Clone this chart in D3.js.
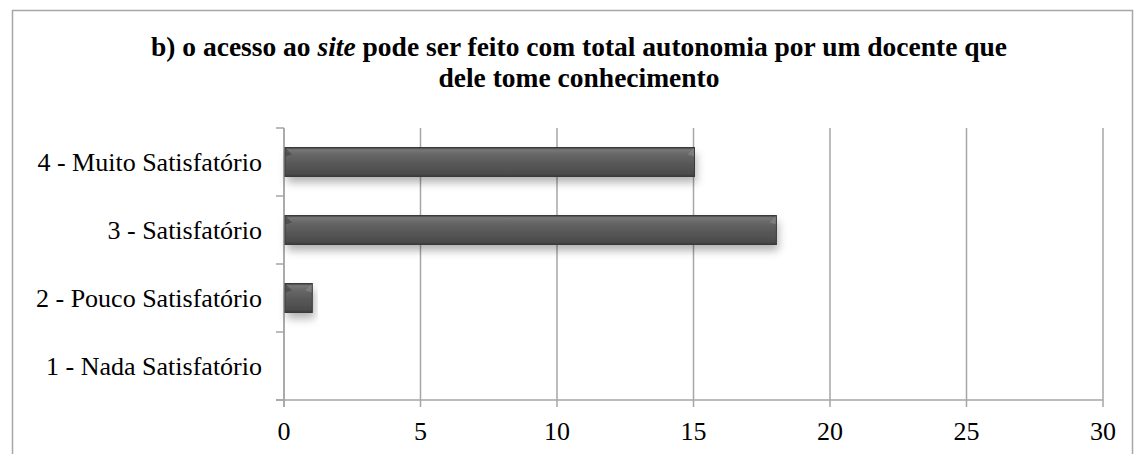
<!DOCTYPE html>
<html><head><meta charset="utf-8">
<script src="https://cdn.jsdelivr.net/npm/d3@7"></script>
<style>body{margin:0;background:#fff}svg{display:block}text{font-family:"Liberation Serif","Times New Roman","DejaVu Serif",serif}</style>
</head><body><svg id="c" width="1134" height="454"></svg>
<script>
const categories = ["1 - Nada Satisfatório","2 - Pouco Satisfatório","3 - Satisfatório","4 - Muito Satisfatório"];
const values = [0, 1, 18, 15];
const xTicks = [0, 5, 10, 15, 20, 25, 30];
const titleLines = [["b) o acesso ao ", "site", " pode ser feito com total autonomia por um docente que"], ["dele tome conhecimento"]];

const svg = d3.select("#c");
const L = 284, R = 1103, T = 128, B = 400;
const x = d3.scaleLinear().domain([0, 30]).range([L, R]);
const y = d3.scaleBand().domain(categories.slice().reverse()).range([T, B]);

// outer border
svg.append("rect").attr("x", 12.5).attr("y", 10.5).attr("width", 1120).attr("height", 460)
  .attr("fill", "none").attr("stroke", "#a6a6a6").attr("stroke-width", 1.5);

const defs = svg.append("defs");
const g = defs.append("linearGradient").attr("id", "bg").attr("x1", 0).attr("y1", 0).attr("x2", 0).attr("y2", 1);
g.append("stop").attr("offset", "0").attr("stop-color", "#3f3f3f");
g.append("stop").attr("offset", "0.08").attr("stop-color", "#777");
g.append("stop").attr("offset", "0.25").attr("stop-color", "#666");
g.append("stop").attr("offset", "0.6").attr("stop-color", "#565656");
g.append("stop").attr("offset", "0.9").attr("stop-color", "#4c4c4c");
g.append("stop").attr("offset", "1").attr("stop-color", "#3a3a3a");
const f = defs.append("filter").attr("id", "sh").attr("x", "-20%").attr("y", "-50%").attr("width", "140%").attr("height", "220%");
f.append("feDropShadow").attr("dx", 2).attr("dy", 6).attr("stdDeviation", 4).attr("flood-color", "#000").attr("flood-opacity", 0.3);

// gridlines
svg.append("g").selectAll("line").data(xTicks).join("line")
  .attr("x1", d => x(d)).attr("x2", d => x(d)).attr("y1", T).attr("y2", B + 7)
  .attr("stroke", "#a6a6a6").attr("stroke-width", 1.5);

// y axis line and ticks
svg.append("line").attr("x1", L).attr("x2", L).attr("y1", T).attr("y2", B + 7).attr("stroke", "#a6a6a6").attr("stroke-width", 1.5);
const yt = [T].concat(categories.map(c => y(c) + y.bandwidth()));
svg.append("g").selectAll("line").data(yt).join("line")
  .attr("x1", L - 8).attr("x2", L).attr("y1", d => d).attr("y2", d => d)
  .attr("stroke", "#a6a6a6").attr("stroke-width", 1.5);
svg.append("line").attr("x1", L - 8).attr("x2", R).attr("y1", B).attr("y2", B).attr("stroke", "#a6a6a6").attr("stroke-width", 1.5);

// bars
const bh = 29;
const bars = svg.append("g").selectAll("g").data(categories.map((c, i) => ({c, v: values[i]})).filter(d => d.v > 0)).join("g");
bars.append("rect").attr("filter", "url(#sh)")
  .attr("x", x(0) + 1).attr("y", d => y(d.c) + y.bandwidth() / 2 - bh / 2)
  .attr("width", d => x(d.v) - x(0)).attr("height", bh).attr("fill", "url(#bg)");
// bevel corners
bars.append("path").attr("fill", "#3c3c3c").attr("opacity", 0.55)
  .attr("d", d => { const x0 = x(0) + 1, x1 = x(d.v) + 1, y0 = y(d.c) + y.bandwidth() / 2 - bh / 2, e = Math.min(7, (x1 - x0) / 2);
    return `M${x0},${y0}L${x0 + e},${y0 + e}L${x0},${y0 + e + 2}Z`; });
bars.append("path").attr("fill", "#8a8a8a").attr("opacity", 0.6)
  .attr("d", d => { const x0 = x(0) + 1, x1 = x(d.v) + 1, y0 = y(d.c) + y.bandwidth() / 2 - bh / 2, e = Math.min(7, (x1 - x0) / 2);
    return `M${x1},${y0}L${x1 - e},${y0 + e}L${x1},${y0 + e + 2}Z`; });
bars.append("rect")
  .attr("x", x(0) + 1).attr("y", d => y(d.c) + y.bandwidth() / 2 - bh / 2)
  .attr("width", d => x(d.v) - x(0)).attr("height", bh).attr("fill", "none").attr("stroke", "#3a3a3a").attr("stroke-width", 1);

// category labels
svg.append("g").selectAll("text").data(categories).join("text")
  .attr("x", 262).attr("y", d => y(d) + y.bandwidth() / 2 + 9)
  .attr("text-anchor", "end").attr("font-size", 26).attr("fill", "#000").text(d => d);

// x tick labels
svg.append("g").selectAll("text").data(xTicks).join("text")
  .attr("x", d => x(d)).attr("y", 440).attr("text-anchor", "middle")
  .attr("font-size", 26).attr("fill", "#000").text(d => d);

// title
titleLines.forEach((parts, i) => {
  const t = svg.append("text").attr("x", 579).attr("y", 56 + i * 31).attr("text-anchor", "middle")
    .attr("font-size", 27.5).attr("font-weight", "bold").attr("fill", "#000");
  parts.forEach((p, j) => t.append("tspan").attr("font-style", (i === 0 && j === 1) ? "italic" : "normal").text(p));
});
</script></body></html>
